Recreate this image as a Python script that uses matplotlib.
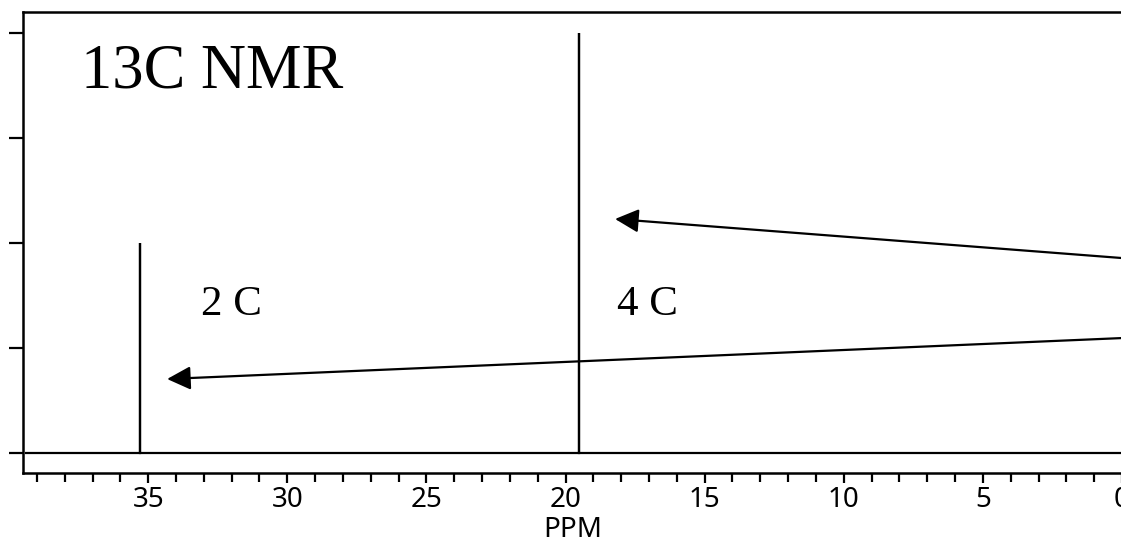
import matplotlib
matplotlib.use("Agg")
import matplotlib.pyplot as plt
from matplotlib.ticker import MultipleLocator, NullFormatter

# Data
peak_ppm = [35.3, 19.5]
peak_height = [2, 4]
peak_labels = ["2 C", "4 C"]
label_pos = [(33.1, 1.31), (18.15, 1.31)]
arrow_tips = [(34.32, 0.705), (18.22, 2.229)]
arrow_tails = [(0.0, 1.095), (0.0, 1.857)]
x_range = (39.5, 0.0)
y_range = (-0.19, 4.2)
major_ticks = [35, 30, 25, 20, 15, 10, 5, 0]
y_ticks = [0, 1, 2, 3, 4]
title_text = "13C NMR"
xlabel_text = "PPM"

fig = plt.figure(figsize=(11.21, 5.41), dpi=100)
ax = fig.add_axes([23 / 1121, 68 / 541, 1099 / 1121, 461 / 541])

# spectrum: baseline + sticks
base_x = [39.4, peak_ppm[0], peak_ppm[0], peak_ppm[0], peak_ppm[1], peak_ppm[1], peak_ppm[1], -1]
base_y = [0, 0, peak_height[0], 0, 0, peak_height[1], 0, 0]
ax.plot(base_x, base_y, color="black", lw=1.6, solid_joinstyle="miter")

ax.set_xlim(*x_range)
ax.set_ylim(*y_range)

ax.xaxis.set_minor_locator(MultipleLocator(1))
ax.set_xticks(major_ticks)
ax.set_xticklabels([str(t) for t in major_ticks], fontfamily="Noto Sans", fontsize=20)
ax.set_yticks(y_ticks)
ax.yaxis.set_major_formatter(NullFormatter())

ax.tick_params(axis="x", which="major", direction="out", length=7.5, width=1.6, pad=2)
ax.tick_params(axis="x", which="minor", direction="out", length=6.5, width=1.6)
ax.tick_params(axis="y", which="major", direction="out", length=10, width=1.6)
ax.spines["right"].set_visible(False)
for s in ["left", "top", "bottom"]:
    ax.spines[s].set_linewidth(1.8)

ax.set_xlabel(xlabel_text, fontfamily="Noto Sans", fontsize=20, labelpad=1)

ax.text(37.4, 3.48, title_text, fontfamily="Liberation Serif", fontsize=45,
        ha="left", va="baseline")
for (lx, ly), t in zip(label_pos, peak_labels):
    ax.text(lx, ly, t, fontfamily="Liberation Serif", fontsize=31, ha="left", va="baseline")

for tip, tail in zip(arrow_tips, arrow_tails):
    ax.annotate("", xy=tip, xytext=tail, xycoords="data", textcoords="data",
                annotation_clip=False,
                arrowprops=dict(arrowstyle="-|>,head_length=0.8,head_width=0.4",
                                mutation_scale=18, lw=1.6, color="black",
                                shrinkA=0, shrinkB=0))

fig.savefig("out.png", dpi=100)
